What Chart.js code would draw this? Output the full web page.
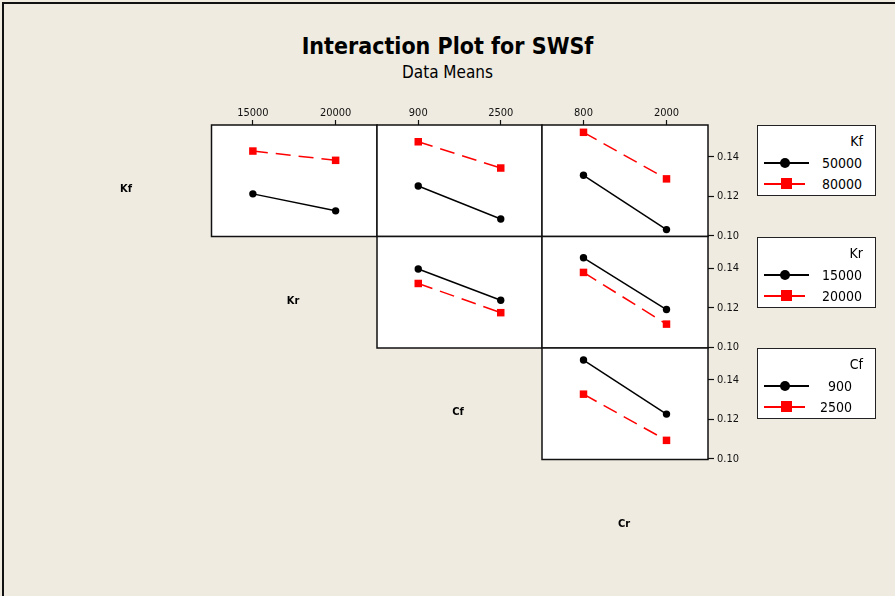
<!DOCTYPE html>
<html>
<head>
<meta charset="utf-8">
<title>Interaction Plot for SWSf</title>
<script src="https://cdn.jsdelivr.net/npm/chart.js@4.4.1/dist/chart.umd.min.js"></script>
<style>
  html, body { margin: 0; padding: 0; background: #EFEBE1; }
  #stage { position: relative; width: 895px; height: 596px; overflow: hidden; background: #EFEBE1;
           font-family: "DejaVu Sans Condensed", "DejaVu Sans", sans-serif; color: #000; }
  #frame { position: absolute; left: 2px; top: 2px; width: 960px; height: 660px;
           border-left: 2px solid #111; border-top: 2px solid #111; }
  canvas.panel { position: absolute; left: 0; top: 0; pointer-events: none; }
  .txt { position: absolute; white-space: nowrap; line-height: 1; }
  #title { left: 0; width: 895px; top: 35px; text-align: center; font-weight: bold; font-size: 23px; }
  #subtitle { left: 0; width: 895px; top: 64px; text-align: center; font-size: 17px; }
  .rowlab { font-weight: bold; font-size: 11px; transform: translate(-50%, -50%); }
  .legend { position: absolute; left: 757px; width: 119px; height: 71px; background: #fff;
            border: 1.5px solid #222; box-sizing: border-box; }
  .legend .ttl { position: absolute; right: 12px; top: 8px; font-size: 14px; }
  .legend .val { position: absolute; font-size: 14px; }
  .legend .ln { position: absolute; left: 6px; height: 1.5px; }
  .legend .dot { position: absolute; width: 10px; height: 10px; border-radius: 50%; background: #000; }
  .legend .sq { position: absolute; width: 11px; height: 11px; background: #FF0000; }
</style>
</head>
<body>
<div id="stage">
  <div id="frame"></div>
  <div id="title" class="txt">Interaction Plot for SWSf</div>
  <div id="subtitle" class="txt">Data Means</div>
</div>
<script>
// Factor levels
const kfLevels = ['50000', '80000'];
const krLevels = ['15000', '20000'];
const cfLevels = ['900', '2500'];
const crLevels = ['800', '2000'];
const factorNames = ['Kf', 'Kr', 'Cf', 'Cr'];

// Mean SWSf for each trace level (rows) at the two x-factor levels (columns)
const kfByKr = [[0.1213, 0.1127], [0.1430, 0.1383]];
const kfByCf = [[0.1253, 0.1086], [0.1477, 0.1344]];
const kfByCr = [[0.1307, 0.1032], [0.1525, 0.1289]];
const krByCf = [[0.1397, 0.1239], [0.1324, 0.1176]];
const krByCr = [[0.1454, 0.1192], [0.1380, 0.1118]];
const cfByCr = [[0.1501, 0.1227], [0.1328, 0.1094]];

// Response axis
const yTicks = [0.10, 0.12, 0.14];
const yMin = 0.0997, yMax = 0.1562;

// Matrix layout
const W = 895, H = 596;
const colEdges = [211.5, 377, 542, 708];
const rowEdges = [125, 236.5, 348, 459.5];
const topAxisH = 20, rightAxisW = 40;

const panels = [
  { row: 0, col: 0, xLevels: krLevels, means: kfByKr },
  { row: 0, col: 1, xLevels: cfLevels, means: kfByCf },
  { row: 0, col: 2, xLevels: crLevels, means: kfByCr },
  { row: 1, col: 1, xLevels: cfLevels, means: krByCf },
  { row: 1, col: 2, xLevels: crLevels, means: krByCr },
  { row: 2, col: 2, xLevels: crLevels, means: cfByCr },
];

const FONT = '"DejaVu Sans Condensed", "DejaVu Sans", sans-serif';

// White panel face with a dark frame
const panelFrame = {
  id: 'panelFrame',
  beforeDatasetsDraw(chart) {
    const a = chart.chartArea, ctx = chart.ctx;
    ctx.save();
    ctx.fillStyle = '#FFFFFF';
    ctx.fillRect(a.left, a.top, a.right - a.left, a.bottom - a.top);
    ctx.strokeStyle = '#111';
    ctx.lineWidth = 1.5;
    ctx.strokeRect(a.left, a.top, a.right - a.left, a.bottom - a.top);
    ctx.restore();
  }
};

const stage = document.getElementById('stage');

panels.forEach(p => {
  const cv = document.createElement('canvas');
  cv.className = 'panel';
  cv.width = W; cv.height = H;
  cv.style.width = W + 'px'; cv.style.height = H + 'px';
  stage.appendChild(cv);

  const showTop = p.row === 0;
  const showRight = p.col === 2;
  const left = colEdges[p.col], right = colEdges[p.col + 1];
  const top = rowEdges[p.row], bottom = rowEdges[p.row + 1];

  const mk = (vals) => vals.map((v, i) => ({ x: i, y: v }));

  new Chart(cv, {
    type: 'line',
    data: {
      datasets: [
        {
          data: mk(p.means[0]),
          borderColor: '#000000', backgroundColor: '#000000',
          borderWidth: 1.5, pointStyle: 'circle', pointRadius: 3.7,
          pointBorderWidth: 0, clip: false, tension: 0
        },
        {
          data: mk(p.means[1]),
          borderColor: '#FF0000', backgroundColor: '#FF0000',
          borderWidth: 1.5, borderDash: [15, 8], pointStyle: 'rect', pointRadius: 5.3,
          pointBorderWidth: 0, clip: false, tension: 0
        }
      ]
    },
    options: {
      responsive: false,
      animation: false,
      devicePixelRatio: 1,
      layout: {
        autoPadding: false,
        padding: {
          left: left,
          right: W - right - (showRight ? rightAxisW : 0),
          top: top - (showTop ? topAxisH : 0),
          bottom: H - bottom
        }
      },
      plugins: { legend: { display: false }, tooltip: { enabled: false }, title: { display: false } },
      scales: {
        x: {
          type: 'linear', position: 'top', min: -0.5, max: 1.5,
          display: showTop,
          afterFit: s => { s.height = showTop ? topAxisH : 0; },
          afterBuildTicks: s => { s.ticks = p.xLevels.map((_, i) => ({ value: i })); },
          ticks: {
            callback: v => p.xLevels[v],
            font: { family: FONT, size: 11 }, color: '#111', padding: 0, maxRotation: 0
          },
          grid: { display: true, drawOnChartArea: false, drawTicks: true, tickLength: 5, tickColor: '#111', tickWidth: 1.2 },
          border: { display: false }
        },
        y: {
          type: 'linear', position: 'right', min: yMin, max: yMax,
          display: showRight,
          afterFit: s => { s.width = showRight ? rightAxisW : 0; },
          afterBuildTicks: s => { s.ticks = yTicks.map(v => ({ value: v })); },
          ticks: {
            callback: v => v.toFixed(2),
            font: { family: FONT, size: 11 }, color: '#111', padding: 3
          },
          grid: { display: true, drawOnChartArea: false, drawTicks: true, tickLength: 6, tickColor: '#111', tickWidth: 1.2 },
          border: { display: false }
        }
      }
    },
    plugins: [panelFrame]
  });
});

// Factor names along the diagonal
const rowLabelPos = [[126, 188], [293, 300], [458, 411], [624, 523]];
factorNames.forEach((name, i) => {
  const d = document.createElement('div');
  d.className = 'txt rowlab';
  d.style.left = rowLabelPos[i][0] + 'px';
  d.style.top = rowLabelPos[i][1] + 'px';
  d.textContent = name;
  stage.appendChild(d);
});

// Level legends, one per trace factor
const legends = [
  { name: 'Kf', levels: kfLevels, top: 125, valRight: 13 },
  { name: 'Kr', levels: krLevels, top: 237, valRight: 13 },
  { name: 'Cf', levels: cfLevels, top: 348, valRight: 23 },
];
legends.forEach(lg => {
  const box = document.createElement('div');
  box.className = 'legend';
  box.style.top = lg.top + 'px';
  let html = '<div class="txt ttl">' + lg.name + '</div>';
  // black solid row
  html += '<div class="ln" style="top:36px;width:45px;background:#000"></div>';
  html += '<div class="dot" style="left:22px;top:32px"></div>';
  html += '<div class="txt val" style="right:' + lg.valRight + 'px;top:30px">' + lg.levels[0] + '</div>';
  // red row
  html += '<div class="ln" style="top:57px;width:41px;background:#FF0000"></div>';
  html += '<div class="sq" style="left:23px;top:52px"></div>';
  html += '<div class="txt val" style="right:' + lg.valRight + 'px;top:51px">' + lg.levels[1] + '</div>';
  box.innerHTML = html;
  stage.appendChild(box);
});
</script>
</body>
</html>
